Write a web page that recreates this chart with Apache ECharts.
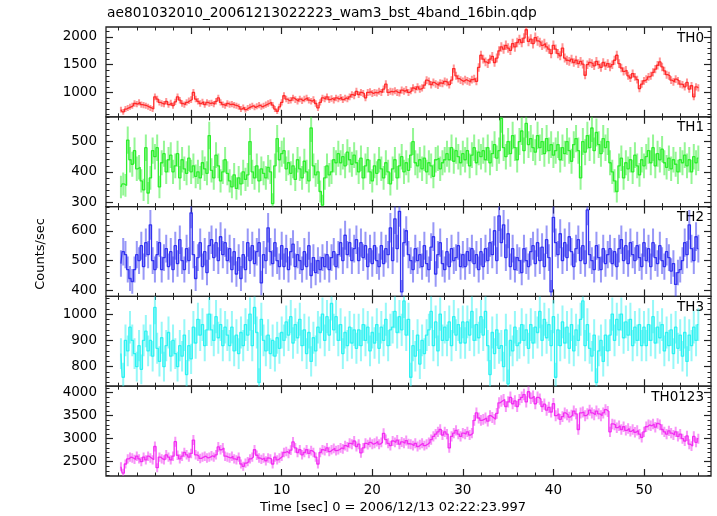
<!DOCTYPE html>
<html><head><meta charset="utf-8">
<script src="https://cdn.jsdelivr.net/npm/echarts@6/dist/echarts.min.js"></script>
<style>html,body{margin:0;padding:0;background:#fff}#c{width:717px;height:516px}</style>
</head><body><div id="c"></div><script>
// ---- data (count rates, counts/sec), 0.25 s bins ----
const timeStart = -7.75;
const binSec = 0.25;
const titleText = 'ae801032010_20061213022223_wam3_bst_4band_16bin.qdp';
const xName = 'Time [sec] 0 = 2006/12/13 02:22:23.997';
const yName = 'Counts/sec';
const panelNames = ['TH0', 'TH1', 'TH2', 'TH3', 'TH0123'];
const xTickLabels = [0, 10, 20, 30, 40, 50];

const th0 = [
690,650,700,720,740,760,800,790, 820,780,770,760,740,720,700,920, 880,820,800,790,840,780,810,760, 830,920,860,800,780,820,850,870,
1000,880,840,800,830,780,820,800, 810,790,840,900,820,780,760,800, 780,790,770,760,740,700,730,690, 720,740,760,730,750,770,740,760,
780,800,820,770,700,660,740,820, 940,880,850,860,900,870,840,880, 850,880,900,860,840,870,800,720, 820,900,880,920,870,890,860,900,
880,910,870,900,880,920,960,940, 1020,960,1000,980,900,1000,1010,980, 1000,990,1020,1000,1060,1150,1000,1020, 1010,1030,1000,990,1040,1020,1050,1000,
1030,1080,1050,1100,1060,1080,1130,1220, 1200,1140,1180,1150,1130,1170,1160,1200, 1180,1140,1220,1430,1300,1250,1220,1200, 1230,1210,1190,1230,1250,1200,1450,1670,
1600,1550,1520,1600,1650,1540,1620,1750, 1820,1780,1850,1800,1760,1880,1820,1900, 1950,1900,1980,2130,1920,1960,1880,1990, 1930,1900,1850,1880,1820,1780,1700,1850,
1780,1700,1660,1800,1620,1580,1560,1600, 1540,1580,1520,1560,1510,1310,1500,1540, 1520,1480,1560,1500,1450,1540,1480,1520, 1460,1500,1580,1670,1520,1440,1380,1400,
1300,1260,1340,1280,1230,1070,1150,1210, 1240,1280,1300,1360,1420,1490,1550,1460, 1390,1320,1300,1220,1190,1240,1210,1150, 1140,1100,1180,1060,1120,920,1100,1080
];
const th1 = [
350,360,355,505,440,425,470,410, 415,370,340,480,330,380,470,450, 480,350,430,460,400,440,455,400, 420,460,380,440,410,395,445,400,
420,385,400,380,430,410,395,520, 405,380,455,420,370,400,440,395, 370,350,390,345,380,360,400,375, 390,500,400,380,420,370,410,395,
380,415,400,295,420,510,440,460, 470,410,430,395,420,375,440,410, 380,435,400,370,545,420,390,400, 335,290,380,420,390,400,440,430,
460,430,450,420,465,440,425,455, 430,400,445,380,420,440,400,370, 420,395,440,410,380,430,400,360, 410,440,380,420,450,400,430,405,
455,500,430,420,440,410,445,400, 430,420,385,440,445,410,430,440, 460,440,480,435,470,450,430,460, 440,470,420,455,480,430,465,450,
470,440,480,430,460,490,445,470, 577,480,450,500,460,520,480,440, 500,535,470,560,490,510,480,465, 520,480,500,460,510,470,490,455,
470,490,440,480,460,500,470,435, 490,510,470,380,500,465,520,480, 545,470,530,490,460,510,480,500, 430,400,370,335,420,445,380,430,
410,440,400,455,420,390,440,420, 450,470,430,480,420,460,440,475, 430,415,445,410,440,425,400,440, 430,455,420,440,400,450,430,445
];
const th2 = [
490,530,520,470,440,430,470,520, 500,550,480,560,520,620,500,470, 520,560,470,510,540,480,530,470, 550,490,570,500,470,540,500,660,
520,440,510,560,480,530,460,550, 570,510,560,500,580,520,560,500, 540,470,530,455,510,440,520,470, 560,500,550,490,530,560,425,520,
500,610,530,490,560,500,480,550, 480,540,470,530,555,480,520,500, 470,530,480,550,450,510,460,500, 470,510,480,520,470,510,530,480,
520,560,500,585,520,560,500,540, 570,500,560,510,550,480,540,490, 550,500,480,550,490,540,520,610, 500,640,540,665,395,560,600,520,
500,470,540,500,520,480,550,490, 470,545,580,455,520,560,490,470, 530,480,540,500,510,550,480,520, 480,530,500,540,490,520,470,530,
480,540,500,560,520,600,500,650, 560,620,510,590,480,540,470,510, 500,460,540,500,480,530,550,490, 560,500,545,480,570,510,395,645,
560,520,590,500,560,510,580,530, 480,540,570,500,550,490,670,520, 500,470,550,510,470,540,490,520, 540,490,530,480,540,570,500,550,
490,560,520,500,550,510,480,560, 500,540,480,560,510,490,550,500, 480,530,510,465,490,420,460,470, 500,560,520,620,540,500,580,540
];
const th3 = [
850,760,900,860,950,900,850,800, 880,790,900,935,860,900,840,1025, 870,820,910,800,880,930,840,900, 850,800,880,840,920,770,880,830,
950,890,980,920,960,880,940,1000, 940,900,990,910,960,880,950,920, 880,950,860,920,850,930,880,960, 920,1000,880,1025,930,740,980,900,
860,920,850,900,840,910,870,930, 900,970,920,990,890,960,910,980, 880,940,850,930,820,910,860,950, 930,1000,900,990,920,1040,940,990,
900,960,850,930,880,950,890,940, 870,940,880,960,900,950,860,930, 890,960,870,950,900,980,880,940, 950,1010,930,990,940,1050,920,980,
760,880,840,920,810,900,850,920, 940,1010,880,970,860,1000,900,950, 900,970,880,990,920,960,890,970, 890,970,920,1010,900,960,910,990,
920,1010,880,770,930,850,940,870, 880,800,940,735,900,860,950,880, 890,960,900,940,870,960,890,950, 930,1010,900,980,910,960,880,990,
760,940,880,970,890,950,870,960, 860,940,900,980,1050,880,960,870, 840,920,740,860,900,820,920,860, 920,1000,900,980,940,1000,910,970,
920,980,880,950,900,960,880,950, 880,960,900,990,890,950,910,960, 860,930,880,940,850,950,870,920, 840,930,820,920,880,950,900,960
];
const th0123 = [
2390,2250,2450,2560,2600,2580,2550,2620, 2560,2500,2600,2540,2620,2580,2540,2830, 2370,2600,2560,2540,2650,2600,2540,2620, 2935,2640,2560,2620,2700,2650,2600,2680,
2970,2650,2620,2570,2600,2620,2580,2600, 2630,2600,2650,2820,2760,2800,2620,2600, 2580,2620,2560,2540,2600,2450,2400,2470, 2500,2560,2600,2760,2640,2580,2550,2580,
2520,2580,2560,2450,2600,2540,2580,2620, 2700,2720,2680,2750,2930,2800,2700,2760, 2650,2700,2760,2680,2740,2700,2600,2450, 2700,2760,2740,2800,2720,2760,2790,2740,
2760,2800,2780,2850,2820,2900,2880,2950, 2830,2880,2690,2800,2900,2870,2920,2880, 2900,2940,2880,2920,3117,2980,2900,2850, 2950,2920,2970,2880,2930,2900,2960,2890,
2880,2850,2900,2830,2870,2900,2850,2880, 2920,2980,3050,3100,3150,3200,3080,3150, 3100,2800,3050,3120,3180,3100,3050,3120, 3100,3150,3080,3120,3400,3560,3450,3400,
3420,3450,3380,3500,3460,3420,3550,3780, 3820,3850,3700,3800,3900,3760,3820,3700, 3850,3900,3960,3800,4020,3880,3920,3760, 3900,3860,3700,3750,3620,3680,3580,3760,
3500,3540,3420,3480,3560,3520,3470,3510, 3600,3540,3200,3560,3580,3500,3540,3620, 3560,3520,3600,3540,3500,3560,3630,3590, 3150,3320,3300,3240,3280,3200,3260,3180,
3220,3160,3200,3140,3180,3100,3030,3150, 3260,3300,3280,3320,3250,3330,3300,3200, 3150,3100,3170,3120,3080,3150,3050,3100, 3000,2950,3060,2880,2840,3050,2920,3000
];

// y tick labels per panel
const yTicks0 = [1000, 1500, 2000];
const yTicks1 = [300, 400, 500];
const yTicks2 = [400, 500, 600];
const yTicks3 = [800, 900, 1000];
const yTicks4 = [2500, 3000, 3500, 4000];

const panels = [
  {data: th0,    color: '#ff2a2a', min: 560,  max: 2180, major: yTicks0, minor: 100},
  {data: th1,    color: '#2cee2c', min: 285,  max: 582,  major: yTicks1, minor: 20},
  {data: th2,    color: '#3232f0', min: 380,  max: 681,  major: yTicks2, minor: 20},
  {data: th3,    color: '#2ef2f2', min: 726,  max: 1067, major: yTicks3, minor: 20},
  {data: th0123, color: '#f22ef2', min: 2189, max: 4141, major: yTicks4, minor: 100}
];

const L = 106, W = 605, T0 = 27, PH = 89.8;
const XMIN = -9.4, XMAX = 57.4;
const FONT = 'DejaVu Sans';
const frame = '#222';

function stepVals(lo, hi, st) {
  const out = [];
  for (let v = Math.ceil(lo / st) * st; v <= hi + 1e-9; v += st) out.push(+v.toFixed(6));
  return out;
}
const xMinor = stepVals(XMIN, XMAX, 2);
const plain = v => String(v);

const grids = [], xAxes = [], yAxes = [], series = [], graphics = [];
panels.forEach((p, i) => {
  grids.push({left: L, top: T0 + i * PH, width: W, height: PH, show: true,
    borderColor: frame, borderWidth: 1.3, backgroundColor: 'transparent'});
  const xb = {type: 'value', gridIndex: i, min: XMIN, max: XMAX, axisLine: {show: false, onZero: false},
    splitLine: {show: false}, axisLabel: {show: false}};
  ['bottom', 'top'].forEach(pos => {
    xAxes.push(Object.assign({}, xb, {position: pos,
      axisTick: {show: true, inside: true, length: 7, customValues: xTickLabels, lineStyle: {color: frame, width: 1.2}},
      axisLabel: (pos === 'bottom' && i === panels.length - 1) ?
        {show: true, customValues: xTickLabels, formatter: plain, margin: 7, fontSize: 13.5, fontFamily: FONT, color: '#000'} : {show: false}
    }));
    xAxes.push(Object.assign({}, xb, {position: pos,
      axisTick: {show: true, inside: true, length: 3.5, customValues: xMinor, lineStyle: {color: frame, width: 1}}}));
  });
  const yMinor = stepVals(p.min, p.max, p.minor);
  const yb = {type: 'value', gridIndex: i, min: p.min, max: p.max, axisLine: {show: false, onZero: false},
    splitLine: {show: false}, axisLabel: {show: false}};
  ['left', 'right'].forEach(pos => {
    yAxes.push(Object.assign({}, yb, {position: pos,
      axisTick: {show: true, inside: true, length: 7, customValues: p.major, lineStyle: {color: frame, width: 1.2}},
      axisLabel: pos === 'left' ? {show: true, customValues: p.major, formatter: plain, margin: 9, fontSize: 13.5, fontFamily: FONT, color: '#000'} : {show: false}
    }));
    yAxes.push(Object.assign({}, yb, {position: pos,
      axisTick: {show: true, inside: true, length: 3.5, customValues: yMinor, lineStyle: {color: frame, width: 1}}}));
  });
  const color = p.color;
  const pts = p.data.map((v, k) => [timeStart + k * binSec, v, Math.sqrt(v * binSec) / binSec]);
  series.push({
    type: 'custom', xAxisIndex: i * 4, yAxisIndex: i * 4, clip: true, silent: true, z: 2,
    data: pts,
    renderItem: function (params, api) {
      const t = api.value(0), v = api.value(1), e = api.value(2);
      const lo = api.coord([t, v - e]), hi = api.coord([t, v + e]);
      return {type: 'line', shape: {x1: lo[0], y1: lo[1], x2: hi[0], y2: hi[1]},
        style: {stroke: color, lineWidth: 2, opacity: 0.5}};
    }
  });
  series.push({
    type: 'line', xAxisIndex: i * 4, yAxisIndex: i * 4, step: 'middle', showSymbol: false, symbol: 'none',
    clip: true, silent: true, z: 3, data: pts.map(d => [d[0], d[1]]),
    lineStyle: {color: color, width: 1.3}
  });
  graphics.push({type: 'text', right: 717 - 704, top: T0 + i * PH + 4,
    style: {text: panelNames[i], font: '13.5px "' + FONT + '"', fill: '#000'}});
});

graphics.push({type: 'text', left: 107, top: 6, style: {text: titleText, font: '13.8px "' + FONT + '"', fill: '#000'}});
graphics.push({type: 'text', left: 260, top: 501, style: {text: xName, font: '13px "' + FONT + '"', fill: '#000'}});
graphics.push({type: 'text', x: 41, y: 254, rotation: Math.PI / 2,
  style: {text: yName, font: '13px "' + FONT + '"', fill: '#000', align: 'center', verticalAlign: 'middle'}});

const chart = echarts.init(document.getElementById('c'), null, {renderer: 'canvas'});
chart.setOption({
  animation: false,
  backgroundColor: '#fff',
  grid: grids, xAxis: xAxes, yAxis: yAxes, series: series, graphic: graphics
});
</script></body></html>
